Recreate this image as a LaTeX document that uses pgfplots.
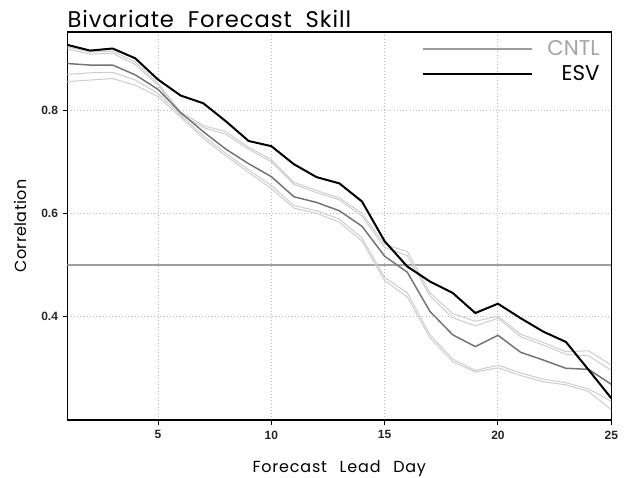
\documentclass[border=0pt]{standalone}
\usepackage{fontspec}
\usepackage{pgfplots}
\pgfplotsset{compat=1.18}
\newfontfamily\poppins{Poppins}
\newfontfamily\titlefont[WordSpace=2, LetterSpace=4]{Poppins}
\newfontfamily\xlabfont[WordSpace=2.5, LetterSpace=5]{Poppins}
\newfontfamily\ylabfont[LetterSpace=2]{Poppins}
\newfontfamily\lsans{Liberation Sans}
\definecolor{cntlcol}{RGB}{115,115,115}
\definecolor{lightcol}{RGB}{205,205,205}
\definecolor{hcol}{RGB}{160,160,160}
\definecolor{gridcol}{RGB}{185,185,185}
\definecolor{legcntl}{RGB}{155,155,155}
\definecolor{legcntltext}{RGB}{165,165,165}

\pgfplotstableread{
d esv cntl ua ub la lb
1  0.926 0.890 0.922 0.918 0.869 0.855
2  0.915 0.887 0.912 0.908 0.872 0.858
3  0.919 0.887 0.914 0.910 0.873 0.861
4  0.900 0.868 0.893 0.888 0.858 0.848
5  0.859 0.840 0.852 0.848 0.832 0.826
6  0.828 0.795 0.796 0.792 0.790 0.786
7  0.813 0.758 0.770 0.766 0.750 0.745
8  0.778 0.724 0.758 0.753 0.716 0.711
9  0.740 0.696 0.728 0.724 0.684 0.679
10 0.730 0.671 0.704 0.700 0.654 0.648
11 0.695 0.632 0.660 0.656 0.615 0.610
12 0.670 0.621 0.644 0.640 0.605 0.600
13 0.658 0.605 0.630 0.626 0.589 0.583
14 0.623 0.575 0.600 0.595 0.552 0.546
15 0.546 0.517 0.540 0.534 0.476 0.470
16 0.497 0.486 0.526 0.518 0.446 0.438
17 0.468 0.410 0.446 0.440 0.365 0.359
18 0.446 0.365 0.406 0.398 0.318 0.313
19 0.407 0.342 0.391 0.382 0.296 0.293
20 0.425 0.364 0.401 0.397 0.306 0.301
21 0.397 0.331 0.366 0.361 0.291 0.286
22 0.371 0.316 0.350 0.345 0.279 0.274
23 0.351 0.300 0.332 0.327 0.272 0.268
24 0.297 0.298 0.334 0.324 0.260 0.255
25 0.242 0.269 0.306 0.296 0.236 0.220
}\skill

\begin{document}
\begin{tikzpicture}
\begin{axis}[
  scale only axis,
  width=408pt, height=291pt,
  xmin=1, xmax=25, ymin=0.2, ymax=0.951,
  xtick={5,10,15,20,25},
  ytick={0.4,0.6,0.8},
  yticklabel style={/pgf/number format/fixed,/pgf/number format/fixed zerofill,/pgf/number format/precision=1},
  /pgf/number format/assume math mode=true,
  tick label style={font=\lsans\bfseries\fontsize{9}{10}\selectfont, text=black!85},
  xticklabel style={yshift=-1pt},
  tick align=outside,
  tick pos=left,
  major tick length=3.5pt,
  tick style={black, line width=0.7pt},
  axis line style={black, line width=1pt},
  grid=major,
  major grid style={dotted, gridcol, line width=0.7pt},
  title={Bivariate Forecast Skill},
  every axis title/.style={at={(rel axis cs:0,1)}, anchor=base west, yshift=3pt, inner sep=0pt, font=\titlefont\fontsize{17}{19}\selectfont},
  xlabel={Forecast Lead Day},
  xlabel style={at={(axis description cs:0.5,-0.1366)}, anchor=base, inner sep=0pt, font=\xlabfont\fontsize{12}{14}\selectfont},
  ylabel={Correlation},
  ylabel style={at={(axis description cs:-0.087,0.5)}, anchor=center, inner sep=0pt, font=\ylabfont\fontsize{12}{14}\selectfont},
  legend cell align=right,
  legend style={draw=none, fill=none, at={(0.979,0.979)}, anchor=north east, inner sep=0pt, row sep=6pt,
    nodes={inner sep=0pt}, font=\poppins\fontsize{16}{18}\selectfont},
  legend image code/.code={\draw[#1] (0pt,0pt) -- (82pt,0pt); \path (92.5pt,0pt);},
]
\addplot[hcol, line width=0.8pt, forget plot] coordinates {(1,0.5) (25,0.5)};
\addplot[lightcol, line width=0.75pt, forget plot] table[x=d, y=la] {\skill};
\addplot[lightcol, line width=0.75pt, forget plot] table[x=d, y=lb] {\skill};
\addplot[lightcol, line width=0.75pt, forget plot] table[x=d, y=ua] {\skill};
\addplot[lightcol, line width=0.75pt, forget plot] table[x=d, y=ub] {\skill};
\addplot[cntlcol, line width=1.1pt, forget plot] table[x=d, y=cntl] {\skill};
\addplot[black, line width=1.5pt, forget plot] table[x=d, y=esv] {\skill};
\addlegendimage{legcntl, line width=1.5pt}
\addlegendentry{\textcolor{legcntltext}{CNTL}}
\addlegendimage{black, line width=1.5pt}
\addlegendentry{ESV}
\end{axis}
\pgfresetboundingbox
\path ([xshift=-50.5pt,yshift=-43.5pt]current axis.south west) rectangle ([xshift=10.3pt,yshift=24pt]current axis.north east);
\end{tikzpicture}
\end{document}
